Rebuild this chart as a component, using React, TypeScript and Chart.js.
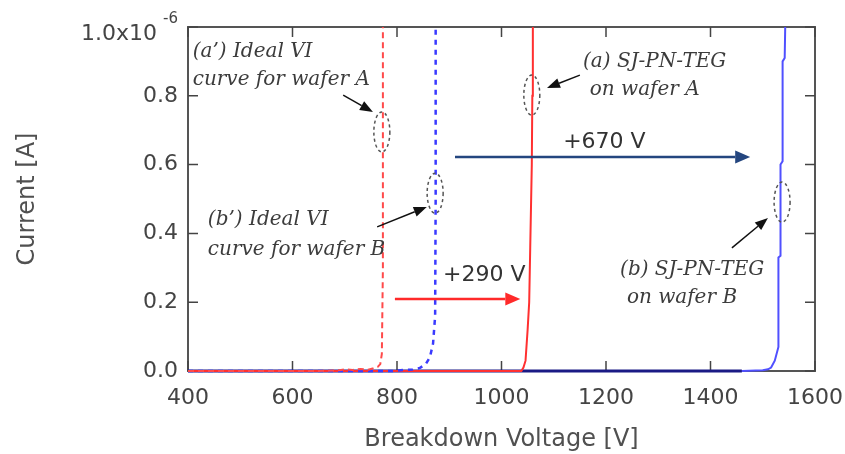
import React, { useEffect, useRef } from "react";
import { Chart, registerables } from "chart.js";

Chart.register(...registerables);

// ---- axis ticks ----
const xTickValues = [400, 600, 800, 1000, 1200, 1400, 1600];
const yTickValues = [0, 0.2, 0.4, 0.6, 0.8, 1.0];
const yTopMantissa = "1.0x10";
const yTopExponent = "-6";
const xTitle = "Breakdown Voltage [V]";
const yTitle = "Current [A]";

// ---- series (voltage in V, current in units of 1e-6 A) ----
const idealAVoltage = [400, 650, 690, 700, 715, 730, 745, 755, 763, 768, 771, 773, 773];
const idealACurrent = [0, 0, 0.002, 0.005, 0.003, 0.006, 0.004, 0.008, 0.012, 0.02, 0.05, 0.3, 1.0];

const idealBVoltage = [400, 790, 815, 830, 844, 855, 863, 869, 873, 874, 874];
const idealBCurrent = [0, 0, 0.003, 0.004, 0.009, 0.02, 0.04, 0.08, 0.16, 0.5, 1.0];

const teGAVoltage = [400, 1038, 1042, 1046, 1050, 1053, 1055, 1058, 1059, 1060];
const teGACurrent = [0, 0, 0.01, 0.03, 0.12, 0.2, 0.36, 0.6, 0.8, 1.0];

const teGBVoltage = [400, 1460, 1500, 1510, 1516, 1523, 1530, 1530, 1534, 1534, 1538, 1538, 1542, 1543];
const teGBCurrent = [0, 0, 0.002, 0.005, 0.01, 0.03, 0.07, 0.33, 0.335, 0.6, 0.61, 0.9, 0.91, 1.0];

// ---- annotations (data coordinates) ----
const noteTexts = [
  { text: "(a’) Ideal VI", v: 409, i: 0.927 },
  { text: "curve for wafer A", v: 409, i: 0.846 },
  { text: "(a) SJ-PN-TEG", v: 1156, i: 0.898 },
  { text: "on wafer A", v: 1169, i: 0.817 },
  { text: "(b’) Ideal VI", v: 438, i: 0.439 },
  { text: "curve for wafer B", v: 438, i: 0.352 },
  { text: "(b) SJ-PN-TEG", v: 1227, i: 0.294 },
  { text: "on wafer B", v: 1240, i: 0.212 },
];
const shiftTexts = [
  { text: "+290 V", v: 888, i: 0.279 },
  { text: "+670 V", v: 1118, i: 0.666 },
];
const shiftArrows = [
  { v1: 796, i1: 0.209, v2: 1036, i2: 0.209, color: "#ff2a2a" },
  { v1: 911, i1: 0.622, v2: 1476, i2: 0.622, color: "#24467f" },
];
const pointerArrows = [
  { v1: 697, i1: 0.802, v2: 754, i2: 0.753 },
  { v1: 1150, i1: 0.86, v2: 1087, i2: 0.823 },
  { v1: 762, i1: 0.419, v2: 857, i2: 0.477 },
  { v1: 1441, i1: 0.358, v2: 1510, i2: 0.445 },
];
const ellipses = [
  { v: 771, i: 0.695 },
  { v: 1058, i: 0.802 },
  { v: 873, i: 0.517 },
  { v: 1537, i: 0.491 },
];

function toPoints(xs: number[], ys: number[]) {
  return xs.map((x, k) => ({ x, y: ys[k] }));
}

function drawArrow(ctx: CanvasRenderingContext2D, x1: number, y1: number, x2: number, y2: number, color: string, lw: number, hl: number, hw: number) {
  const ang = Math.atan2(y2 - y1, x2 - x1);
  const bx = x2 - hl * Math.cos(ang);
  const by = y2 - hl * Math.sin(ang);
  ctx.save();
  ctx.strokeStyle = color;
  ctx.fillStyle = color;
  ctx.lineWidth = lw;
  ctx.setLineDash([]);
  ctx.beginPath();
  ctx.moveTo(x1, y1);
  ctx.lineTo(bx, by);
  ctx.stroke();
  ctx.beginPath();
  ctx.moveTo(x2, y2);
  ctx.lineTo(bx + (hw / 2) * Math.sin(ang), by - (hw / 2) * Math.cos(ang));
  ctx.lineTo(bx - (hw / 2) * Math.sin(ang), by + (hw / 2) * Math.cos(ang));
  ctx.closePath();
  ctx.fill();
  ctx.restore();
}

const TICK_FONT = { family: "DejaVu Sans", size: 22 };
const Y_TICK_PADDING = 10;

const framePlugin = {
  id: "frame",
  beforeDatasetsDraw(chart: any) {
    const { ctx, chartArea } = chart;
    const xs = chart.scales.x;
    const ys = chart.scales.y;
    const { left, right, top, bottom } = chartArea;
    ctx.save();
    ctx.strokeStyle = "#555";
    ctx.lineWidth = 2;
    ctx.strokeRect(left, top, right - left, bottom - top);
    ctx.lineWidth = 1.5;
    ctx.strokeStyle = "#444";
    const tl = 10;
    xTickValues.forEach((v) => {
      const px = xs.getPixelForValue(v);
      ctx.beginPath();
      ctx.moveTo(px, bottom);
      ctx.lineTo(px, bottom - tl);
      ctx.moveTo(px, top);
      ctx.lineTo(px, top + tl);
      ctx.stroke();
    });
    yTickValues.forEach((v) => {
      const py = ys.getPixelForValue(v);
      ctx.beginPath();
      ctx.moveTo(left, py);
      ctx.lineTo(left + tl, py);
      ctx.moveTo(right, py);
      ctx.lineTo(right - tl, py);
      ctx.stroke();
    });
    // exponent of the top y tick label
    const topVal = yTickValues[yTickValues.length - 1];
    ctx.fillStyle = "#444";
    ctx.font = "15px 'DejaVu Sans'";
    ctx.textAlign = "right";
    ctx.textBaseline = "middle";
    ctx.fillText(yTopExponent, left - Y_TICK_PADDING, ys.getPixelForValue(topVal) - 8);
    ctx.restore();
  },
  afterDatasetsDraw(chart: any) {
    const { ctx } = chart;
    const xs = chart.scales.x;
    const ys = chart.scales.y;
    const px = (v: number) => xs.getPixelForValue(v);
    const py = (i: number) => ys.getPixelForValue(i);
    ctx.save();
    // ellipses
    ctx.strokeStyle = "#555";
    ctx.lineWidth = 1.5;
    ctx.setLineDash([3, 3]);
    ellipses.forEach((e) => {
      ctx.beginPath();
      ctx.ellipse(px(e.v), py(e.i), 8, 20, 0, 0, Math.PI * 2);
      ctx.stroke();
    });
    ctx.setLineDash([]);
    // pointers
    pointerArrows.forEach((a) => drawArrow(ctx, px(a.v1), py(a.i1), px(a.v2), py(a.i2), "#111", 1.5, 13, 10));
    // shift arrows
    shiftArrows.forEach((a) => drawArrow(ctx, px(a.v1), py(a.i1), px(a.v2), py(a.i2), a.color, 2.5, 15, 13));
    // texts
    ctx.fillStyle = "#3c3c3c";
    ctx.textAlign = "left";
    ctx.textBaseline = "middle";
    ctx.font = "italic 20px 'DejaVu Serif'";
    noteTexts.forEach((t) => ctx.fillText(t.text, px(t.v), py(t.i)));
    ctx.fillStyle = "#333";
    ctx.font = "22px 'DejaVu Sans'";
    shiftTexts.forEach((t) => ctx.fillText(t.text, px(t.v), py(t.i)));
    ctx.restore();
  },
};

export default function App() {
  const ref = useRef<HTMLCanvasElement | null>(null);
  useEffect(() => {
    if (!ref.current) return;
    const topVal = yTickValues[yTickValues.length - 1];
    const chart = new Chart(ref.current, {
      type: "line",
      data: {
        datasets: [
          {
            label: "(a') Ideal VI curve for wafer A",
            data: toPoints(idealAVoltage, idealACurrent),
            borderColor: "#ff4a4a",
            borderWidth: 2,
            borderDash: [6, 4],
            pointRadius: 0,
            tension: 0,
            clip: false as any,
          },
          {
            label: "(b') Ideal VI curve for wafer B",
            data: toPoints(idealBVoltage, idealBCurrent),
            borderColor: "#3a3aff",
            borderWidth: 2.5,
            borderDash: [5, 5],
            pointRadius: 0,
            tension: 0,
            clip: false as any,
          },
          {
            label: "(a) SJ-PN-TEG on wafer A",
            data: toPoints(teGAVoltage, teGACurrent),
            borderColor: "#ff3030",
            borderWidth: 2,
            pointRadius: 0,
            tension: 0,
            clip: false as any,
          },
          {
            label: "(b) SJ-PN-TEG on wafer B",
            data: toPoints(teGBVoltage, teGBCurrent),
            borderColor: "#5050ff",
            borderWidth: 2,
            pointRadius: 0,
            tension: 0,
            clip: false as any,
            segment: {
              borderColor: (c: any) => (c.p1.parsed.x <= 1460 ? "#1a1a85" : "#5050ff"),
              borderWidth: (c: any) => (c.p1.parsed.x <= 1460 ? 3 : 2),
            },
          } as any,
        ],
      },
      options: {
        animation: false,
        responsive: false,
        devicePixelRatio: 1,
        layout: { padding: { top: 27, right: 30, left: 0, bottom: 0 } },
        plugins: { legend: { display: false }, tooltip: { enabled: false } },
        scales: {
          x: {
            type: "linear",
            min: 400,
            max: 1600,
            afterBuildTicks: (s: any) => {
              s.ticks = xTickValues.map((v) => ({ value: v }));
            },
            grid: { display: false, drawTicks: false },
            border: { display: false },
            ticks: {
              font: TICK_FONT,
              color: "#444",
              padding: 14,
              maxRotation: 0,
              autoSkip: false,
              callback: (v: any) => String(v),
            },
            title: {
              display: true,
              text: xTitle,
              font: { family: "DejaVu Sans", size: 24 },
              color: "#505050",
              padding: { top: 0, bottom: 0 },
            },
            afterFit: (s: any) => {
              s.height = 83;
              s.paddingLeft = 0;
              s.paddingRight = 0;
            },
          },
          y: {
            type: "linear",
            min: 0,
            max: 1,
            afterBuildTicks: (s: any) => {
              s.ticks = yTickValues.map((v) => ({ value: v }));
            },
            grid: { display: false, drawTicks: false },
            border: { display: false },
            ticks: {
              font: (c: any) =>
                c.tick && c.tick.value === topVal
                  ? { ...TICK_FONT, lineHeight: "14px" }
                  : TICK_FONT,
              color: "#444",
              padding: Y_TICK_PADDING,
              autoSkip: false,
              callback: (v: any) =>
                Number(v) === topVal ? ["", yTopMantissa + "   "] : Number(v).toFixed(1),
            },
            title: {
              display: true,
              text: yTitle,
              font: { family: "DejaVu Sans", size: 24 },
              color: "#505050",
              padding: { top: 13, bottom: 0 },
            },
            afterFit: (s: any) => {
              s.width = 188;
              s.paddingTop = 0;
              s.paddingBottom = 0;
            },
          },
        },
      },
      plugins: [framePlugin],
    } as any);
    return () => chart.destroy();
  }, []);
  return (
    <div style={{ position: "fixed", left: 0, top: 0, width: 845, height: 454, background: "#fff" }}>
      <canvas ref={ref} width={845} height={454} style={{ width: 845, height: 454, display: "block" }} />
    </div>
  );
}
